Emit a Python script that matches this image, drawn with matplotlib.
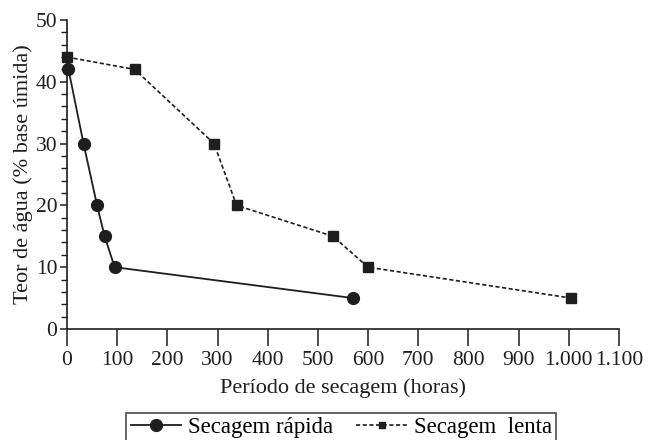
import numpy as np
import matplotlib.pyplot as plt
from matplotlib.ticker import MultipleLocator, FuncFormatter

plt.rcParams['font.family'] = ['Liberation Serif', 'DejaVu Serif']

# Data
rapida_x = [3, 33, 60, 75, 95, 570]
rapida_y = [42, 30, 20, 15, 10, 5]
lenta_x = [0, 135, 293, 338, 530, 600, 1005]
lenta_y = [44, 42, 30, 20, 15, 10, 5]

cor = '#1e1e1e'
fs = 16

fig = plt.figure(figsize=(6.54, 4.4), dpi=100)
ax = fig.add_axes([0.1024, 0.2523, 0.8441, 0.7023])

l1, = ax.plot(rapida_x, rapida_y, '-', color=cor, lw=1.3,
              marker='o', ms=8.5, clip_on=False, label='Secagem rápida')
l2, = ax.plot(lenta_x, lenta_y, color=cor, lw=1.2, ls=(0, (2.5, 1.5)),
              marker='s', ms=6.5, clip_on=False, label='Secagem  lenta')

ax.set_xlim(0, 1100)
ax.set_ylim(0, 50)
ax.xaxis.set_major_locator(MultipleLocator(100))
ax.yaxis.set_major_locator(MultipleLocator(10))
ax.yaxis.set_minor_locator(MultipleLocator(2))
ax.xaxis.set_major_formatter(FuncFormatter(lambda v, p: f'{int(v):,}'.replace(',', '.')))

for s in ['top', 'right']:
    ax.spines[s].set_visible(False)
for s in ['left', 'bottom']:
    ax.spines[s].set_linewidth(1.2)
    ax.spines[s].set_color(cor)

ax.tick_params(axis='both', which='major', direction='out',
               width=1.1, colors=cor, labelsize=15.5)
ax.tick_params(axis='y', which='major', length=5, pad=2)
ax.tick_params(axis='y', which='minor', direction='out', length=4,
               width=1.0, colors=cor)
ax.tick_params(axis='x', which='major', length=12, pad=4)

ax.set_xlabel('Período de secagem (horas)', fontsize=fs, color=cor, labelpad=6)
ax.set_ylabel('Teor de água (% base úmida)', fontsize=fs, color=cor, labelpad=2)

leg = fig.legend(handles=[l1, l2], loc='upper center',
                 bbox_to_anchor=(0.522, 0.062), ncol=2, fontsize=16.5,
                 frameon=True, fancybox=False, edgecolor=cor,
                 handlelength=2.2, columnspacing=1.0, handletextpad=0.3,
                 borderpad=0.2, borderaxespad=0.0)
leg.get_frame().set_linewidth(1.2)
leg.legend_handles[1].set_markersize(5)

fig.savefig('out.png', dpi=100)
